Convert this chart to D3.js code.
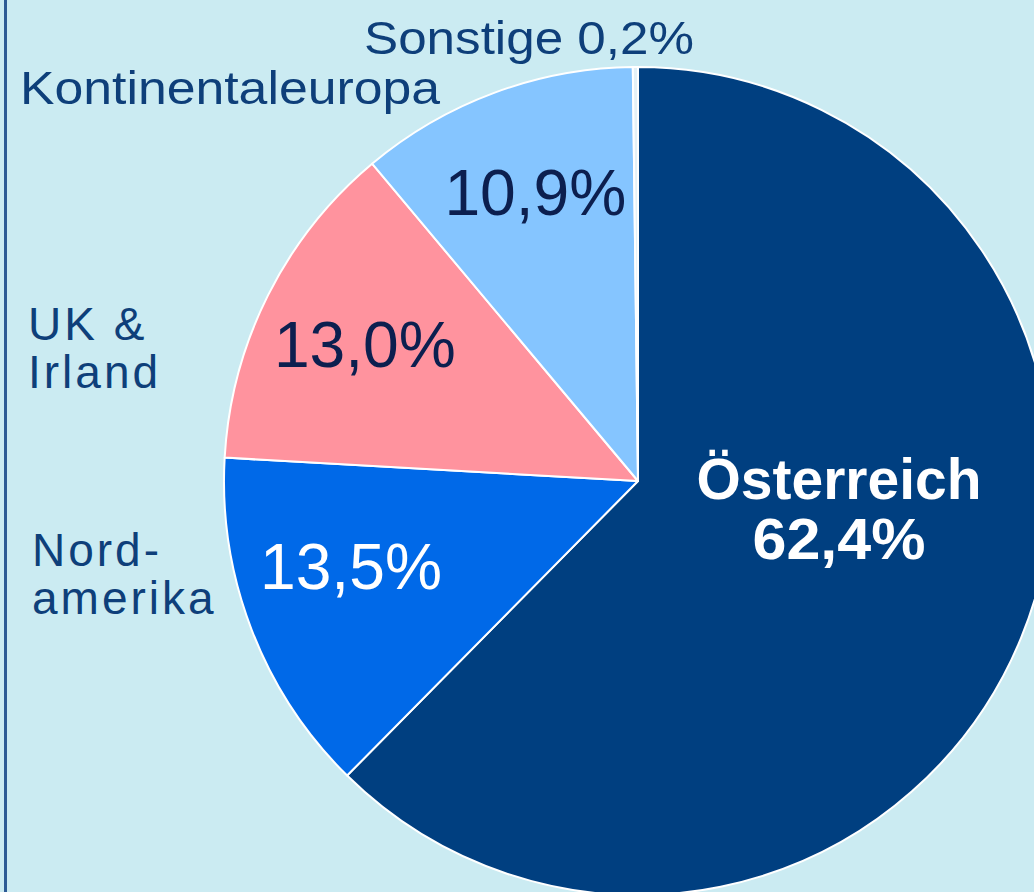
<!DOCTYPE html>
<html>
  <head>
    <meta charset="utf-8">
    <title>Herkunft</title>
    <script src="https://d3js.org/d3.v7.min.js"></script>
    <style>
      body { margin: 0; background: #cbebf2; }
      svg { display: block; }
    </style>
  </head>
  <body>
    <svg id="chart" width="1034" height="892"></svg>
    <script>
      // data
      regions = ["Österreich", "Nordamerika", "UK & Irland", "Kontinentaleuropa", "Sonstige"];
      shares = [62.4, 13.5, 13.0, 10.9, 0.2];
      colours = ["#003f80", "#0069e8", "#ff939e", "#85c5ff", "#e4f1f7"];
      valueLabels = ["62,4%", "13,5%", "13,0%", "10,9%", "0,2%"];

      width = 1034;
      height = 892;
      cx = 638;
      cy = 481;
      radius = 414;

      svg = d3.select("#chart");

      svg.append("rect")
        .attr("width", width)
        .attr("height", height)
        .attr("fill", "#cbebf2");

      // left rule
      svg.append("line")
        .attr("x1", 5.5).attr("x2", 5.5)
        .attr("y1", 0).attr("y2", height)
        .attr("stroke", "#2d5b95")
        .attr("stroke-width", 3);

      pie = d3.pie()
        .sort(null)
        .value(function(d) { return d; });
      arc = d3.arc()
        .innerRadius(0)
        .outerRadius(radius);

      arcs = pie(shares);

      g = svg.append("g")
        .attr("transform", "translate(" + cx + "," + cy + ")");

      g.selectAll(".slice")
        .data(arcs)
        .enter().append("path")
          .classed("slice", true)
          .attr("d", arc)
          .attr("fill", function(d, i) { return colours[i]; })
          .attr("stroke", "#ffffff")
          .attr("stroke-width", 2)
          .attr("stroke-linejoin", "round");

      // value labels inside slices, placed along each slice's mid angle
      insideLabels = [
        { i: 1, r: 0.73, colour: "#ffffff", dx: -5, dy: -24 },
        { i: 2, r: 0.73, colour: "#0c1f4f", dx: -3, dy: -2 },
        { i: 3, r: 0.72, colour: "#0c1f4f", dx: 1, dy: -10 }
      ];
      insideLabels.forEach(function(l) {
        let a = arcs[l.i];
        let mid = (a.startAngle + a.endAngle) / 2;
        let rr = radius * l.r;
        g.append("text")
          .attr("x", rr * Math.sin(mid) + l.dx)
          .attr("y", -rr * Math.cos(mid) + l.dy)
          .attr("dy", "0.36em")
          .attr("text-anchor", "middle")
          .attr("fill", l.colour)
          .attr("textLength", 182)
          .attr("lengthAdjust", "spacingAndGlyphs")
          .style("font-family", "'Liberation Sans', Arial, sans-serif")
          .style("font-size", "64px")
          .text(valueLabels[l.i]);
      });

      // main slice label
      main = svg.append("text")
        .attr("text-anchor", "middle")
        .attr("fill", "#ffffff")
        .style("font-family", "'Liberation Sans', Arial, sans-serif")
        .style("font-weight", "bold")
        .style("font-size", "57px");
      main.append("tspan")
        .attr("x", 839).attr("y", 499)
        .attr("textLength", 285)
        .attr("lengthAdjust", "spacingAndGlyphs")
        .text(regions[0]);
      main.append("tspan")
        .attr("x", 839).attr("y", 559)
        .attr("textLength", 173)
        .attr("lengthAdjust", "spacingAndGlyphs")
        .text(valueLabels[0]);

      // outside labels
      outside = [
        { lines: [regions[4] + " " + valueLabels[4]], x: 364, y: 54, w: 330, size: 46, lh: 0 },
        { lines: [regions[3]], x: 20, y: 104, w: 420, size: 46, lh: 0 },
        { lines: ["UK &", "Irland"], x: 28, y: 340, w: null, size: 46, lh: 48 },
        { lines: ["Nord-", "amerika"], x: 32, y: 566, w: null, size: 46, lh: 48 }
      ];
      outside.forEach(function(o) {
        let t = svg.append("text")
          .attr("fill", "#0e3f7a")
          .style("font-family", "'Liberation Sans', Arial, sans-serif")
          .style("font-size", o.size + "px");
        o.lines.forEach(function(line, k) {
          let s = t.append("tspan")
            .attr("x", o.x)
            .attr("y", o.y + k * o.lh)
            .text(line);
          if (o.w) {
            s.attr("textLength", o.w).attr("lengthAdjust", "spacingAndGlyphs");
          } else {
            s.style("letter-spacing", "3px");
          }
        });
      });
    </script>
  </body>
</html>
